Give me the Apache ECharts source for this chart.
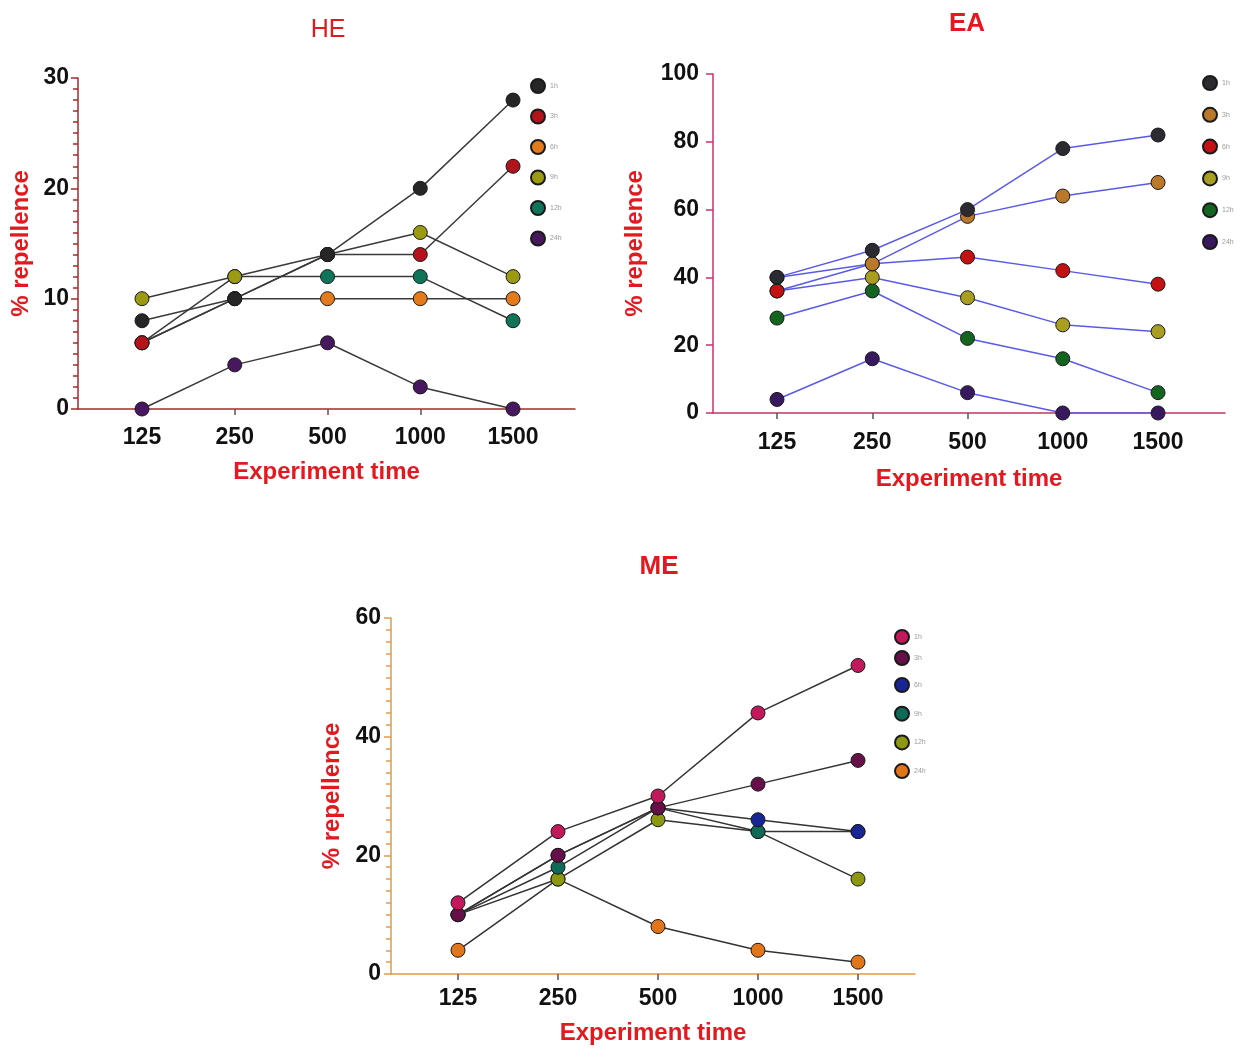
<!DOCTYPE html>
<html>
<head>
<meta charset="utf-8">
<script src="https://cdn.jsdelivr.net/npm/echarts@6/dist/echarts.min.js"></script>
<style>
html,body{margin:0;padding:0;background:#fff;}
#chart{width:1244px;height:1048px;}
</style>
</head>
<body>
<div id="chart"></div>
<script>
// ---- data ----
const categories = ['125', '250', '500', '1000', '1500'];
const seriesNames = ['1h', '3h', '6h', '9h', '12h', '24h'];

const he1h = [8, 10, 14, 20, 28];
const he3h = [6, 10, 14, 14, 22];
const he6h = [6, 10, 10, 10, 10];
const he9h = [10, 12, 14, 16, 12];
const he12h = [6, 12, 12, 12, 8];
const he24h = [0, 4, 6, 2, 0];

const ea1h = [40, 48, 60, 78, 82];
const ea3h = [40, 44, 58, 64, 68];
const ea6h = [36, 44, 46, 42, 38];
const ea9h = [36, 40, 34, 26, 24];
const ea12h = [28, 36, 22, 16, 6];
const ea24h = [4, 16, 6, 0, 0];

const me1h = [12, 24, 30, 44, 52];
const me3h = [10, 20, 28, 32, 36];
const me6h = [10, 20, 28, 26, 24];
const me9h = [10, 18, 28, 24, 24];
const me12h = [10, 16, 26, 24, 16];
const me24h = [4, 16, 8, 4, 2];

const heColors = ['#262626', '#b3141c', '#e37a1c', '#9c9a12', '#0f7458', '#47175f'];
const eaColors = ['#2a2a30', '#b9782a', '#c41212', '#a89e22', '#12641e', '#38185f'];
const meColors = ['#c2185c', '#651048', '#1a2595', '#0f6a58', '#8c9812', '#e2741a'];

// ---- helpers ----
const FONT = 'Liberation Sans, Arial, sans-serif';
const RED = '#e4191f';
const tickIdx = [0, 1, 2, 3, 4];

function xAxisCfg(gridIndex, min, max, axisColor, labelMargin, nameGap) {
  return {
    type: 'value', gridIndex: gridIndex, min: min, max: max,
    name: 'Experiment time', nameLocation: 'middle', nameGap: nameGap,
    nameTextStyle: {color: RED, fontSize: 24, fontWeight: 'bold', fontFamily: FONT},
    axisLine: {show: true, onZero: false, lineStyle: {color: axisColor, width: 1.5}},
    axisTick: {show: true, customValues: tickIdx, length: 6, lineStyle: {color: '#555', width: 1.5}},
    axisLabel: {customValues: tickIdx, margin: labelMargin, color: '#111', fontSize: 23, fontWeight: 'bold', fontFamily: FONT,
      formatter: function (v) { return categories[Math.round(v)]; }},
    splitLine: {show: false}
  };
}
function yAxisCfg(gridIndex, max, interval, axisColor, minor, labelMargin, nameGap) {
  return {
    type: 'value', gridIndex: gridIndex, min: 0, max: max, interval: interval,
    name: '% repellence', nameLocation: 'middle', nameGap: nameGap,
    nameTextStyle: {color: RED, fontSize: 24, fontWeight: 'bold', fontFamily: FONT},
    axisLine: {show: true, onZero: false, lineStyle: {color: axisColor, width: 1.5}},
    axisTick: {show: true, length: 7, lineStyle: {color: axisColor, width: 1.5}},
    minorTick: {show: minor > 0, splitNumber: minor || 5, length: 5, lineStyle: {color: axisColor, width: 1.5}},
    axisLabel: {margin: labelMargin, color: '#111', fontSize: 23, fontWeight: 'bold', fontFamily: FONT},
    splitLine: {show: false}
  };
}
function makeSeries(values, colors, gridIndex, lineColor, suffix) {
  return values.map(function (vals, i) {
    return {
      name: seriesNames[i] + suffix, type: 'line', xAxisIndex: gridIndex, yAxisIndex: gridIndex,
      data: vals.map(function (v, k) { return [k, v]; }),
      symbol: 'circle', symbolSize: 14, z: 10 - i,
      lineStyle: {color: lineColor, width: 1.5},
      itemStyle: {color: colors[i], borderColor: '#1a1a1a', borderWidth: 1},
      emphasis: {disabled: true},
      animation: false
    };
  });
}

const heSeries = makeSeries([he1h, he3h, he6h, he9h, he12h, he24h], heColors, 0, '#3a3a3a', ' ');
const eaSeries = makeSeries([ea1h, ea3h, ea6h, ea9h, ea12h, ea24h], eaColors, 1, '#5a5ae6', '  ');
const meSeries = makeSeries([me1h, me3h, me6h, me9h, me12h, me24h], meColors, 2, '#333333', '   ');

function legendCfg(left, top, gap, series) {
  return {
    orient: 'vertical', left: left, top: top, itemGap: gap, itemWidth: 14, itemHeight: 14,
    padding: 0, icon: 'circle', selectedMode: false,
    data: series.map(function (s) { return s.name; }),
    textStyle: {fontSize: 7, color: '#9a9a9a', fontFamily: FONT}
  };
}

const option = {
  backgroundColor: '#ffffff',
  animation: false,
  title: [
    {text: 'HE', left: 328, top: 30, padding: 0, textAlign: 'center', textVerticalAlign: 'middle',
      textStyle: {color: RED, fontSize: 25, fontWeight: 'normal', fontFamily: FONT}},
    {text: 'EA', left: 967, top: 24, padding: 0, textAlign: 'center', textVerticalAlign: 'middle',
      textStyle: {color: RED, fontSize: 26, fontWeight: 'bold', fontFamily: FONT}},
    {text: 'ME', left: 659, top: 567, padding: 0, textAlign: 'center', textVerticalAlign: 'middle',
      textStyle: {color: RED, fontSize: 26, fontWeight: 'bold', fontFamily: FONT}}
  ],
  legend: [
    legendCfg(530, 78, 14.5, heSeries),
    legendCfg(1202, 75, 15.8, eaSeries),
    legendCfg(894, 629, 5, meSeries.slice(0, 2)),
    legendCfg(894, 677, 12.7, meSeries.slice(2))
  ],
  grid: [
    {left: 78, top: 78, width: 497, height: 331},
    {left: 713, top: 74, width: 512, height: 339},
    {left: 391, top: 618, width: 524, height: 356}
  ],
  xAxis: [
    xAxisCfg(0, -0.69, 4.668, '#a52a2a', 17, 51),
    xAxisCfg(1, -0.672, 4.703, '#c8336a', 18, 54),
    xAxisCfg(2, -0.67, 4.57, '#df9a4a', 13, 47)
  ],
  yAxis: [
    yAxisCfg(0, 30, 10, '#a52a2a', 10, 9, 45),
    yAxisCfg(1, 100, 20, '#c8336a', 0, 14, 66),
    yAxisCfg(2, 60, 20, '#df9a4a', 10, 10, 47)
  ],
  series: heSeries.concat(eaSeries, meSeries)
};

const chart = echarts.init(document.getElementById('chart'), null, {renderer: 'canvas'});
chart.setOption(option);
</script>
</body>
</html>
